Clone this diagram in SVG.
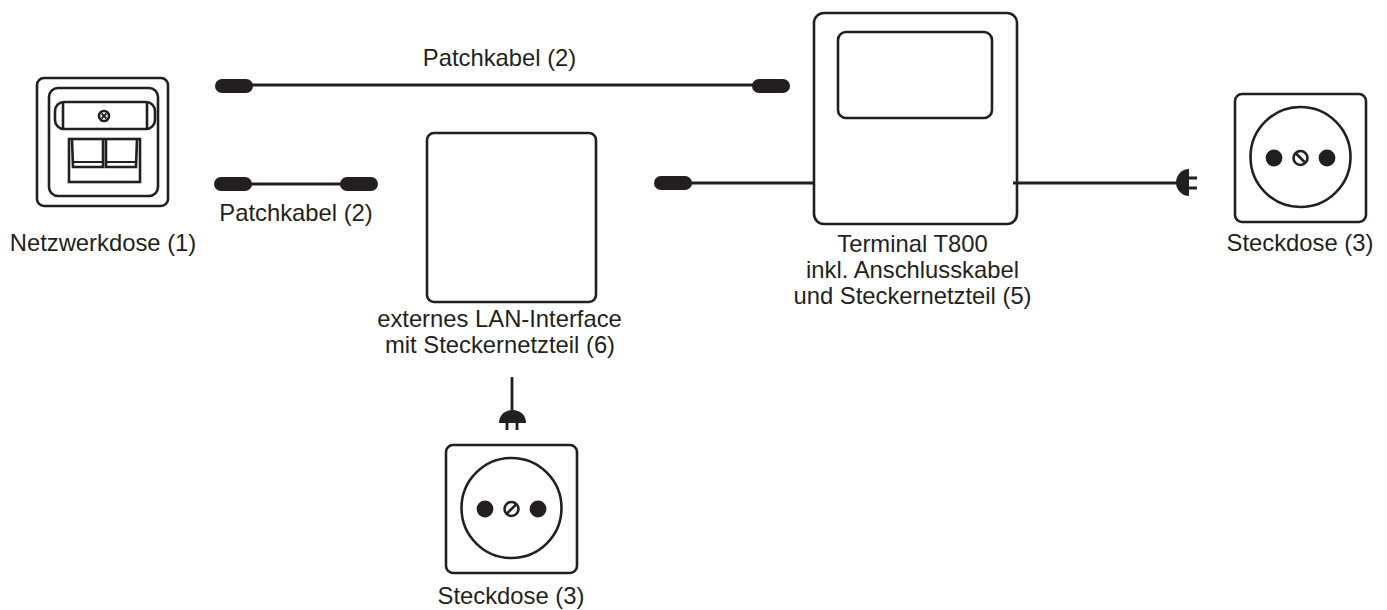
<svg xmlns="http://www.w3.org/2000/svg" width="1387" height="610" viewBox="0 0 1387 610">
<style>
text{font-family:"Liberation Sans",Arial,sans-serif;font-size:23.8px;fill:#231f20;text-anchor:middle}
.o{fill:#fff;stroke:#231f20;stroke-width:2.6}
.n{fill:none;stroke:#231f20;stroke-width:2.6}
.l{fill:none;stroke:#231f20;stroke-width:2.8}
.k{fill:#231f20}
.t{fill:none;stroke:#231f20;stroke-width:1.8}
</style>
<defs>
<g id="sock">
<rect class="o" x="0" y="0" width="131" height="128" rx="7"/>
<circle class="n" cx="65.500" cy="63" r="50"/>
<circle class="k" cx="39" cy="64" r="8.400"/>
<circle class="k" cx="92" cy="64" r="8.400"/>
<circle class="n" cx="65.500" cy="64" r="7"/>
</g>
</defs>
<g id="netzwerkdose">
<rect class="o" x="37" y="78" width="131" height="128" rx="7"/>
<rect class="n" x="49" y="88" width="109" height="108" rx="9"/>
<rect class="n" x="55" y="102" width="100" height="27" rx="9"/>
<path class="n" d="M63 102 V129 M147 102 V129"/>
<circle class="n" cx="104" cy="116" r="5"/>
<path class="t" d="M101.500 113.500 L106.500 118.500 M106.500 113.500 L101.500 118.500"/>
<rect class="n" x="69" y="139" width="71" height="43"/>
<path class="n" d="M72 139 L73 167 H103 V139 M106 139 V167 H136 L137 139"/>
<path class="t" d="M73 162 H103 M106 162 H136"/>
<text x="103" y="251">Netzwerkdose (1)</text>
</g>
<g id="patch-label-top"><text x="499.500" y="66">Patchkabel (2)</text></g>
<g id="patch-label-bottom"><text x="296" y="221">Patchkabel (2)</text></g>
<g id="lan-interface">
<rect class="o" x="427" y="133" width="169" height="169" rx="7"/>
<text x="499.500" y="327">externes LAN-Interface</text>
<text x="500" y="353">mit Steckernetzteil (6)</text>
</g>
<g id="terminal">
<rect class="o" x="814" y="13" width="203" height="211" rx="10"/>
<rect class="n" x="838" y="32" width="154" height="86" rx="8"/>
<text x="912.500" y="252">Terminal T800</text>
<text x="912.500" y="278">inkl. Anschlusskabel</text>
<text x="912.500" y="304">und Steckernetzteil (5)</text>
</g>
<g id="steckdose-right">
<use href="#sock" x="1235" y="94"/>
<line class="n" x1="1295.500" y1="153" x2="1305.500" y2="163"/>
<text x="1300" y="251">Steckdose (3)</text>
</g>
<g id="steckdose-bottom">
<use href="#sock" x="446" y="445"/>
<line class="n" x1="506.500" y1="514" x2="516.500" y2="504"/>
<text x="511" y="604">Steckdose (3)</text>
</g>
<g id="connectors">
<line class="l" x1="250" y1="85" x2="756" y2="85"/>
<rect class="k" x="215" y="79" width="38" height="14" rx="7"/>
<rect class="k" x="752" y="79" width="38" height="14" rx="7"/>
<line class="l" x1="248" y1="184" x2="344" y2="184"/>
<rect class="k" x="214" y="177" width="38" height="14" rx="7"/>
<rect class="k" x="340" y="177" width="38" height="14" rx="7"/>
<line class="l" x1="690" y1="183" x2="814" y2="183"/>
<rect class="k" x="654" y="176" width="38" height="14" rx="7"/>
<line class="l" x1="1013" y1="183" x2="1178" y2="183"/>
<path class="k" d="M1189 169 V196 C1182 196 1176 190 1176 182.500 C1176 175 1182 169 1189 169Z"/>
<path class="l" d="M1188 178 H1197 M1188 188 H1197"/>
<line class="l" x1="512" y1="377" x2="512" y2="412"/>
<path class="k" d="M499 423 C499 415 505 410 512.500 410 C520 410 526 415 526 423Z"/>
<path class="l" d="M507 422 V430 M517 422 V430"/>
</g>
</svg>
